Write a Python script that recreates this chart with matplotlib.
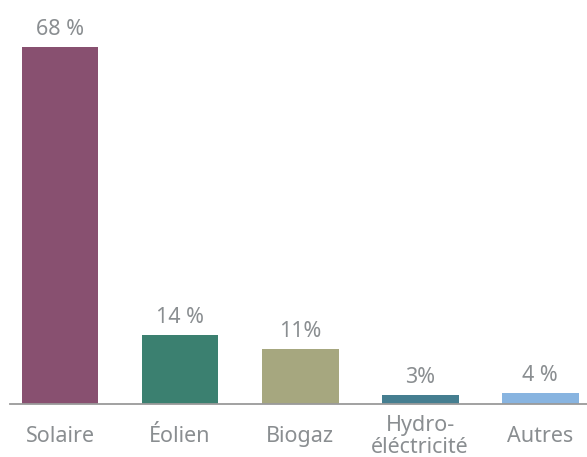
import matplotlib.pyplot as plt

# =============================================================================
# Data
# =============================================================================

categories = ["Solaire", "Éolien", "Biogaz", "Hydro-\néléctricité", "Autres"]
heights = [68, 13.2, 10.5, 1.7, 2.1]          # bar heights as drawn
value_labels = ["68 %", "14 %", "11%", "3%", "4 %"]
colors = ["#885070", "#3b8070", "#a6a77f", "#457e90", "#88b4e0"]

TEXT_COLOR = "#8a8e91"
plt.rcParams["font.family"] = ["Noto Sans", "DejaVu Sans"]

# =============================================================================
# Plot
# =============================================================================

fig = plt.figure(figsize=(5.87, 4.57), dpi=100)
ax = fig.add_axes([10 / 587, 53 / 457, 577 / 587, 404 / 457])

x = range(len(categories))
ax.bar(x, heights, width=0.64, color=colors, zorder=2)

for xi, h, lab in zip(x, heights, value_labels):
    ax.annotate(lab, (xi, h), xytext=(0, 5), textcoords="offset points",
                ha="center", va="bottom", fontsize=15.5, color=TEXT_COLOR)

for xi, cat in zip(x, categories):
    ax.text(xi, -0.08, cat, transform=ax.get_xaxis_transform(),
            ha="center", va="center", fontsize=15.5, color=TEXT_COLOR,
            linespacing=1.05)

ax.set_xlim(-0.417, 4.39)
ax.set_ylim(0, 68 * 404 / 357)
ax.set_xticks([])
ax.set_yticks([])
for side in ["top", "right", "left"]:
    ax.spines[side].set_visible(False)
ax.spines["bottom"].set_color("#9a9a9a")
ax.spines["bottom"].set_linewidth(1.3)

fig.savefig("out.png", dpi=100)
